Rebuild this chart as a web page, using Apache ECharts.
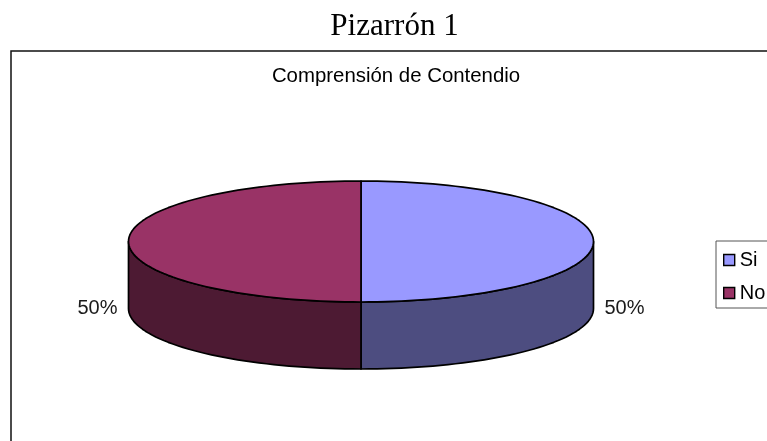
<!DOCTYPE html>
<html><head><meta charset="utf-8">
<style>html,body{margin:0;padding:0;background:#fff;overflow:hidden}#c{width:767px;height:441px}</style>
<script src="https://cdn.jsdelivr.net/npm/echarts@6/dist/echarts.min.js"></script>
</head><body><div id="c"></div>
<script>
const pageTitle = 'Pizarrón 1';
const chartTitle = 'Comprensión de Contendio';
const categories = ['Si', 'No'];
const values = [50, 50];
const topColors = ['#9999FF', '#993366'];
const sideColors = ['#4D4D80', '#4D1A33'];

const CX = 361, CY = 241.5, RX = 232.5, RY = 60.5, DEPTH = 67;
const total = values.reduce((a, b) => a + b, 0);
const pt = (deg, dy) => {
  const r = deg * Math.PI / 180;
  return [CX + RX * Math.sin(r), CY + dy - RY * Math.cos(r)];
};
const arc = (from, to, dy) => {
  const out = [], n = Math.max(2, Math.ceil(Math.abs(to - from) / 2));
  for (let i = 0; i <= n; i++) out.push(pt(from + (to - from) * i / n, dy));
  return out;
};
const lineStyle = { stroke: '#000', lineWidth: 1.7, lineJoin: 'round' };

function makeRender(index) {
  return function (params, api) {
    const before = values.slice(0, index).reduce((a, b) => a + b, 0);
    const a0 = before / total * 360;
    const a1 = a0 + api.value(0) / total * 360;
    const children = [];
    const w0 = Math.max(a0, 90), w1 = Math.min(a1, 270);
    if (w1 > w0) {
      children.push({
        type: 'polygon',
        shape: { points: arc(w0, w1, 0).concat(arc(w1, w0, DEPTH)) },
        style: Object.assign({ fill: sideColors[index] }, lineStyle)
      });
    }
    children.push({
      type: 'polygon',
      shape: { points: [[CX, CY]].concat(arc(a0, a1, 0)) },
      style: Object.assign({ fill: topColors[index] }, lineStyle)
    });
    const mid = (a0 + a1) / 2;
    const right = Math.sin(mid * Math.PI / 180) >= 0;
    const pct = Math.round(api.value(0) / total * 100) + '%';
    children.push({
      type: 'text',
      style: {
        text: pct,
        x: pt(mid, 0)[0] + (right ? 11 : -11),
        y: CY + DEPTH,
        align: right ? 'left' : 'right',
        verticalAlign: 'middle',
        fontFamily: 'Liberation Sans',
        fontSize: 20,
        fill: '#1a1a1a'
      }
    });
    return { type: 'group', children };
  };
}

const chart = echarts.init(document.getElementById('c'), null, { renderer: 'canvas' });
chart.setOption({
  animation: false,
  backgroundColor: '#fff',
  title: [
    { text: pageTitle, left: 389.5, top: 6, textAlign: 'center',
      textStyle: { fontFamily: 'Liberation Serif', fontSize: 31, fontWeight: 'normal', color: '#000' } },
    { text: chartTitle, left: 391, top: 61, textAlign: 'center',
      textStyle: { fontFamily: 'Liberation Sans', fontSize: 20.4, fontWeight: 'normal', color: '#000' } }
  ],
  legend: {
    data: categories,
    orient: 'vertical',
    left: 716,
    top: 241,
    padding: [9, 40, 5, 7],
    itemGap: 13,
    itemWidth: 11,
    itemHeight: 11,
    icon: 'rect',
    selectedMode: false,
    borderColor: '#555',
    borderWidth: 1,
    itemStyle: { borderColor: '#000', borderWidth: 1.4 },
    textStyle: { fontFamily: 'Liberation Sans', fontSize: 20, color: '#000', padding: [0, 0, 0, 0] }
  },
  graphic: [{
    type: 'polyline',
    silent: true,
    shape: { points: [[11, 441], [11, 51], [767, 51]] },
    style: { stroke: '#111', lineWidth: 1.5, fill: null }
  }],
  series: categories.map((name, i) => ({
    type: 'custom',
    name,
    coordinateSystem: 'none',
    silent: true,
    itemStyle: { color: topColors[i] },
    data: [[values[i]]],
    renderItem: makeRender(i)
  }))
});
</script></body></html>
